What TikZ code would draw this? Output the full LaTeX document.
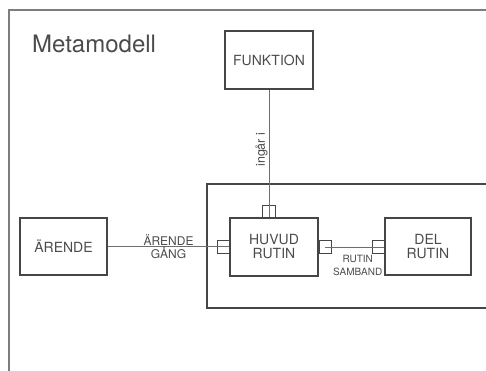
\documentclass[tikz,border=0pt]{standalone}
\usepackage{fontspec}
\setmainfont{TeX Gyre Heros}
\begin{document}
\begin{tikzpicture}[x=1pt,y=-1pt]
  % Colors
  \definecolor{framecol}{RGB}{125,125,125}
  \definecolor{boxcol}{RGB}{70,70,70}
  \definecolor{linkcol}{RGB}{110,110,110}
  \definecolor{txtcol}{RGB}{75,75,75}
  %
  \def\bw{87pt}
  \def\bh{57pt}
  %
  \tikzset{
    ebox/.style={draw=boxcol, line width=1.1pt, minimum width=\bw, minimum height=\bh,
                 inner sep=0pt, align=center, text=txtcol, font=\fontsize{14}{14}\selectfont},
    port/.style={draw=boxcol, line width=0.8pt, minimum width=12pt, minimum height=13pt,
                 inner sep=0pt},
    vport/.style={port, minimum width=13pt, minimum height=12pt},
    link/.style={draw=linkcol, line width=0.8pt},
    lbl/.style={text=txtcol, align=center, inner sep=1pt},
  }
  \useasboundingbox (0,0) rectangle (486,371);
  %
  %%% FRAMES %%%
  \draw[framecol, line width=1.3pt] (9,371) -- (9,10) -- (486,10);
  \draw[boxcol, line width=1.1pt] (486,184) -- (207,184) -- (207,308) -- (486,308);
  \node[anchor=base west, text=txtcol, font=\fontsize{24}{24}\selectfont, inner sep=0pt]
    (title) at (32,53) {Metamodell};
  %
  %%% ENTITIES %%%
  \node[ebox, minimum width=88pt, minimum height=58pt] (funk) at (269,60) {FUNKTION};
  \node[ebox] (arende) at (63.5,246.5) {ÄRENDE};
  \node[ebox, minimum width=88pt, minimum height=58pt] (huvud) at (274,247) {HUVUD\\RUTIN};
  \node[ebox, minimum width=86pt] (del) at (428,246.5) {DEL\\RUTIN};
  %
  % Ports
  \node[vport, anchor=south] (ptop) at (huvud.north -| funk.south) {};
  \node[port, anchor=east] (pleft) at (huvud.west) {};
  \node[port, anchor=west] (pright) at (huvud.east) {};
  \node[port, anchor=east] (pdel) at (del.west) {};
  %
  %%% LINKS %%%
  \draw[link] (funk.south) -- (ptop.south)
    node[lbl, pos=0.47, rotate=90, anchor=south, font=\fontsize{12.5}{13}\selectfont] {ingår i};
  \draw[link] (arende.east) -- (arende.east -| huvud.west)
    node[lbl, pos=0.5, font=\fontsize{12}{13}\selectfont] {ÄRENDE\\GÅNG};
  \draw[link] (pright.center) -- (pright.center -| del.west)
    node[lbl, pos=0.5, below, yshift=-7pt, xshift=3pt, font=\fontsize{10}{13}\selectfont] {RUTIN\\SAMBAND};
\end{tikzpicture}
\end{document}
